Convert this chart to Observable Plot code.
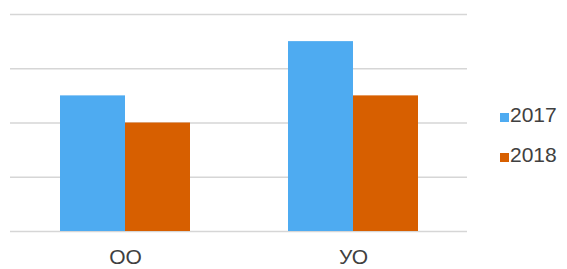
<!DOCTYPE html>
<html>
<head>
<meta charset="utf-8">
<script src="https://cdn.jsdelivr.net/npm/d3@7"></script>
<script src="https://cdn.jsdelivr.net/npm/@observablehq/plot@0.6"></script>
<style>
  html, body { margin: 0; padding: 0; background: #fff; }
  #wrap { position: relative; width: 567px; height: 269px; overflow: hidden; }
  #wrap svg { position: absolute; left: 0; top: 0; }
  .legend { position: absolute; left: 500px; font-family: "Liberation Sans", Arial, sans-serif; font-size: 21px; line-height: 21px; color: #404040; white-space: nowrap; }
  .legend .sw { display: inline-block; width: 9px; height: 9px; margin-right: 1px; }
</style>
</head>
<body>
<div id="wrap"></div>
<script>
const categories = ["ОО", "УО"];
const years = ["2017", "2018"];
const values2017 = [2.5, 3.5];
const values2018 = [2.0, 2.5];
const yTicks = [0, 1, 2, 3, 4];
const colors = ["#4eabf1", "#d75f00"];

const series = {"2017": values2017, "2018": values2018};
const rows = [];
categories.forEach((c, i) => years.forEach(y => rows.push({cat: c, year: y, value: series[y][i]})));

const common = {
  width: 567,
  height: 269,
  marginLeft: 10,
  marginRight: 100,
  marginTop: 14,
  marginBottom: 38,
  style: {fontFamily: "'Liberation Sans', Arial, sans-serif", fontSize: "21px", color: "#404040", background: "transparent"}
};

const grid = Plot.plot({
  ...common,
  y: {domain: [0, 4], axis: null},
  marks: [
    Plot.ruleY(yTicks, {y: d => d, stroke: "#d6d6d6", strokeWidth: 1.7})
  ]
});

const chart = Plot.plot({
  ...common,
  fx: {domain: categories, paddingInner: 0.43, paddingOuter: 0.215, label: null, tickSize: 0, tickPadding: 18},
  x: {domain: years, padding: 0, axis: null},
  y: {domain: [0, 4], axis: null},
  color: {domain: years, range: colors},
  marks: [
    Plot.barY(rows, {fx: "cat", x: "year", y: "value", fill: "year"})
  ]
});
const wrap = document.getElementById("wrap");
wrap.appendChild(grid);
wrap.appendChild(chart);

years.forEach((y, i) => {
  const row = document.createElement("div");
  row.className = "legend";
  row.style.top = (104 + i * 40) + "px";
  const sw = document.createElement("span");
  sw.className = "sw";
  sw.style.background = colors[i];
  row.appendChild(sw);
  row.appendChild(document.createTextNode(y));
  wrap.appendChild(row);
});
</script>
</body>
</html>
